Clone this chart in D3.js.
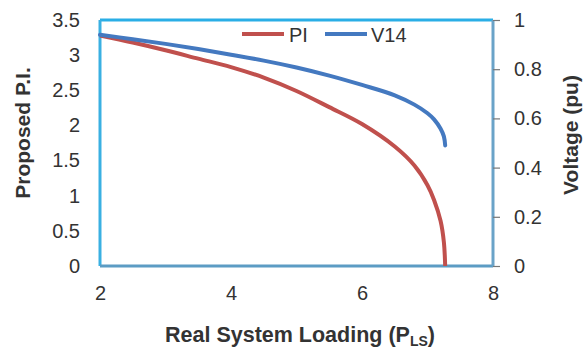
<!DOCTYPE html>
<html><head><meta charset="utf-8">
<script src="https://cdn.jsdelivr.net/npm/d3@7"></script>
<style>body{margin:0;background:#fff}svg{display:block}text{font-family:"Liberation Sans",Arial,sans-serif;fill:#333}</style>
</head><body><div id="c"></div>
<script>
const xLoading = [2, 2.5, 3, 3.5, 4, 4.5, 5, 5.5, 6, 6.5, 6.8, 7, 7.1, 7.2, 7.25, 7.27];
const piValues = [3.28, 3.18, 3.07, 2.95, 2.83, 2.68, 2.49, 2.26, 2.02, 1.70, 1.43, 1.15, 0.94, 0.64, 0.34, 0];
const v14Values = [0.94, 0.922, 0.903, 0.882, 0.859, 0.835, 0.807, 0.774, 0.736, 0.694, 0.656, 0.621, 0.596, 0.558, 0.527, 0.49];
const xTicks = [2, 4, 6, 8];
const yLeftTicks = [0, 0.5, 1, 1.5, 2, 2.5, 3, 3.5];
const yRightTicks = [0, 0.2, 0.4, 0.6, 0.8, 1];
const seriesNames = ["PI", "V14"];
const colors = ["#c0504d", "#4479c0"];

const W = 585, H = 349;
const m = {l: 100, r: 493, t: 20, b: 266};
const FONT = "Liberation Sans, Arial, sans-serif";
const svg = d3.select("#c").append("svg").attr("width", W).attr("height", H);
const x = d3.scaleLinear().domain([2, 8]).range([m.l, m.r]);
const yL = d3.scaleLinear().domain([0, 3.5]).range([m.b, m.t]);
const yR = d3.scaleLinear().domain([0, 1]).range([m.b, m.t]);

// axis lines / frame
svg.append("line").attr("x1", m.l).attr("x2", m.r).attr("y1", m.t).attr("y2", m.t).attr("stroke", "#2aaee6").attr("stroke-width", 3);
svg.append("line").attr("x1", m.l).attr("x2", m.l).attr("y1", m.t).attr("y2", m.b).attr("stroke", "#3ab0e2").attr("stroke-width", 3);
svg.append("line").attr("x1", m.l).attr("x2", m.r).attr("y1", m.b).attr("y2", m.b).attr("stroke", "#5c9cc4").attr("stroke-width", 3);
svg.append("line").attr("x1", m.r).attr("x2", m.r).attr("y1", m.t).attr("y2", m.b).attr("stroke", "#6aa3c8").attr("stroke-width", 3);

// right ticks
const gR = svg.append("g").attr("transform", `translate(${m.r},0)`)
  .call(d3.axisRight(yR).tickValues(yRightTicks).tickSize(7).tickPadding(14).tickFormat(d3.format("")));
gR.select(".domain").remove();
gR.selectAll(".tick line").attr("stroke", "#777").attr("stroke-width", 1.2);
gR.selectAll(".tick text").attr("font-size", 20).attr("fill", "#333").attr("font-family", FONT);

// left ticks
const gL = svg.append("g").attr("transform", `translate(${m.l},0)`)
  .call(d3.axisLeft(yL).tickValues(yLeftTicks).tickSize(0).tickPadding(20).tickFormat(d3.format("")));
gL.select(".domain").remove();
gL.selectAll(".tick text").attr("font-size", 20).attr("fill", "#333").attr("font-family", FONT);

// bottom ticks
const gB = svg.append("g").attr("transform", `translate(0,${m.b})`)
  .call(d3.axisBottom(x).tickValues(xTicks).tickSize(0).tickPadding(20).tickFormat(d3.format("")));
gB.select(".domain").remove();
gB.selectAll(".tick text").attr("font-size", 20).attr("fill", "#333").attr("font-family", FONT);

// lines
const piData = xLoading.map((d, i) => [d, piValues[i]]);
const vData = xLoading.map((d, i) => [d, v14Values[i]]);
svg.append("path").datum(piData).attr("fill", "none").attr("stroke", colors[0]).attr("stroke-width", 4)
  .attr("d", d3.line().x(d => x(d[0])).y(d => yL(d[1])).curve(d3.curveCatmullRom.alpha(0.5)));
svg.append("path").datum(vData).attr("fill", "none").attr("stroke", colors[1]).attr("stroke-width", 4).attr("stroke-linecap", "round")
  .attr("d", d3.line().x(d => x(d[0])).y(d => yR(d[1])).curve(d3.curveCatmullRom.alpha(0.5)));

// legend
const leg = [{x: 242, tx: 289}, {x: 325, tx: 371}];
leg.forEach((l, i) => {
  svg.append("line").attr("x1", l.x).attr("x2", l.x + 42).attr("y1", 34).attr("y2", 34).attr("stroke", colors[i]).attr("stroke-width", 4);
  svg.append("text").attr("x", l.tx).attr("y", 41.5).attr("font-size", 20).text(seriesNames[i]);
});

// axis titles
const xt = svg.append("text").attr("x", 300).attr("y", 342).attr("text-anchor", "middle").attr("font-size", 21.5).attr("font-weight", "bold");
xt.append("tspan").text("Real System Loading (P");
xt.append("tspan").attr("font-size", 14).attr("dy", 4).text("LS");
xt.append("tspan").attr("dy", -4).text(")");

svg.append("text").attr("transform", "translate(30,133) rotate(-90)").attr("text-anchor", "middle").attr("font-size", 21).attr("font-weight", "bold").text("Proposed P.I.");
svg.append("text").attr("transform", "translate(578,135) rotate(-90)").attr("text-anchor", "middle").attr("font-size", 21).attr("font-weight", "bold").text("Voltage (pu)");
</script></body></html>
